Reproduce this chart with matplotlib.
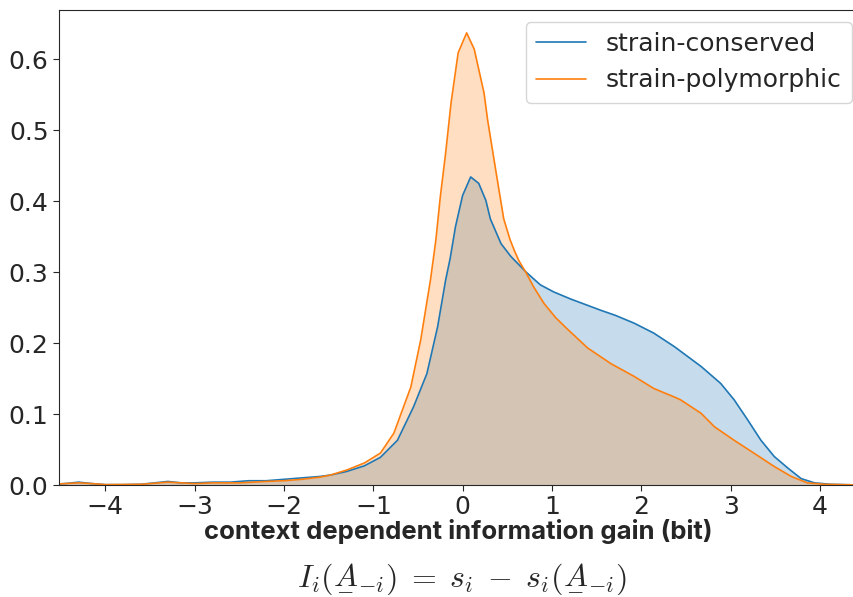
import numpy as np
import matplotlib.pyplot as plt
import seaborn as sns

# Density estimates
conserved_x = [-4.6, -4.45, -4.3, -4.15, -4.0, -3.8, -3.6, -3.45, -3.3, -3.15,
               -3.0, -2.8, -2.6, -2.4, -2.2, -2.0, -1.8, -1.6, -1.48, -1.3,
               -1.1, -0.92, -0.73, -0.55, -0.40, -0.28, -0.19, -0.14, -0.08, 0.0,
               0.09, 0.18, 0.26, 0.31, 0.43, 0.54, 0.71, 0.87, 1.02, 1.21,
               1.55, 1.71, 1.92, 2.14, 2.37, 2.52, 2.67, 2.89, 3.04, 3.19,
               3.34, 3.49, 3.64, 3.79, 3.94, 4.12, 4.45]
conserved_y = [0.001, 0.002, 0.004, 0.002, 0.0005, 0.0005, 0.001, 0.003, 0.005, 0.003,
               0.003, 0.004, 0.004, 0.006, 0.006, 0.008, 0.010, 0.012, 0.014, 0.019,
               0.027, 0.039, 0.063, 0.110, 0.157, 0.223, 0.289, 0.319, 0.364, 0.408,
               0.434, 0.425, 0.401, 0.375, 0.340, 0.322, 0.300, 0.282, 0.272, 0.262,
               0.246, 0.239, 0.228, 0.214, 0.195, 0.181, 0.167, 0.143, 0.120, 0.092,
               0.063, 0.040, 0.024, 0.009, 0.003, 0.001, 0.0]

polymorphic_x = [-4.6, -4.45, -4.3, -4.15, -4.0, -3.6, -3.3, -3.0, -2.8, -2.5,
                 -2.2, -2.0, -1.8, -1.6, -1.48, -1.3, -1.1, -0.92, -0.77, -0.58,
                 -0.47, -0.36, -0.30, -0.25, -0.19, -0.13, -0.05, 0.045, 0.13, 0.24,
                 0.28, 0.37, 0.46, 0.53, 0.58, 0.63, 0.71, 0.80, 0.91, 1.04,
                 1.17, 1.40, 1.66, 1.92, 2.14, 2.37, 2.44, 2.67, 2.82, 3.04,
                 3.26, 3.49, 3.68, 3.86, 4.05, 4.45]
polymorphic_y = [0.001, 0.002, 0.003, 0.002, 0.0005, 0.001, 0.004, 0.002, 0.003, 0.003,
                 0.005, 0.006, 0.008, 0.011, 0.014, 0.021, 0.031, 0.045, 0.073, 0.138,
                 0.204, 0.289, 0.345, 0.406, 0.468, 0.538, 0.609, 0.637, 0.614, 0.552,
                 0.514, 0.444, 0.375, 0.346, 0.330, 0.316, 0.299, 0.278, 0.256, 0.236,
                 0.220, 0.193, 0.171, 0.153, 0.136, 0.124, 0.120, 0.101, 0.082, 0.063,
                 0.045, 0.026, 0.012, 0.003, 0.001, 0.0]

series = [
    ("strain-conserved", conserved_x, conserved_y, "C0"),
    ("strain-polymorphic", polymorphic_x, polymorphic_y, "C1"),
]

sns.set_style("ticks")
plt.rcParams["font.family"] = ["DejaVu Sans"]
plt.rcParams["mathtext.fontset"] = "cm"

fig = plt.figure(figsize=(8.54, 5.97), dpi=100)
ax = fig.add_axes([0.069, 0.1876, 0.935, 0.7954])

for label, xs, ys, color in series:
    ax.fill_between(xs, ys, color=color, alpha=0.25, linewidth=0)
    ax.plot(xs, ys, color=color, lw=1.2, label=label)

ax.set_xlim(-4.52, 4.42)
ax.set_ylim(0, 0.669)
ax.set_xticks([-4, -3, -2, -1, 0, 1, 2, 3, 4])
ax.set_yticks([0.0, 0.1, 0.2, 0.3, 0.4, 0.5, 0.6])
ax.tick_params(labelsize=18, colors="#262626", length=4.5, pad=3)
ax.spines["right"].set_visible(False)

ax.set_xlabel("context dependent information gain (bit)", fontsize=18.5,
              fontweight="bold", family="Inter", labelpad=0)

# formula line under the axis label
fig.text(462 / 854, 3 / 597,
         r"$I_i(\underset{-}{A}_{-i})\;=\;s_i\;-\;s_i(\underset{-}{A}_{-i})$",
         ha="center", va="bottom", fontsize=23)

ax.legend(loc="upper right", bbox_to_anchor=(852 / 854, 1 - 22 / 597),
          bbox_transform=fig.transFigure, borderaxespad=0, fontsize=18,
          handlelength=2.0, handletextpad=0.8)

plt.savefig("out.png", dpi=100)
